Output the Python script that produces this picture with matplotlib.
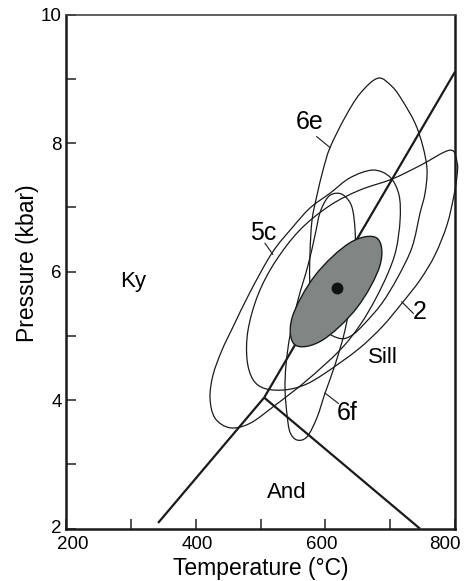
import numpy as np
import matplotlib
matplotlib.use("Agg")
import matplotlib.pyplot as plt
import matplotlib.transforms as mtransforms
from matplotlib.path import Path
from matplotlib.patches import PathPatch

plt.rcParams['font.family'] = ['Liberation Sans', 'DejaVu Sans']

# reaction lines (T in C, P in kbar)
ky_and_T = [342, 505.6]
ky_and_P = [2.09, 4.04]
ky_sill_T = [505.6, 800]
ky_sill_P = [4.04, 9.11]
and_sill_T = [505.6, 746]
and_sill_P = [4.04, 2.0]

# P-T envelopes
env_6e_T = [681.2, 702.8, 718.2, 738.3, 750.6, 756.8, 753.7, 746.0, 733.7, 712.1, 687.4, 661.2,
            641.1, 622.6, 599.5, 584.1, 576.3, 576.3, 579.4, 587.1, 596.4, 607.2, 630.3, 653.5]
env_6e_P = [9.01, 8.88, 8.67, 8.31, 7.94, 7.58, 7.22, 6.91, 6.38, 5.92, 5.51, 5.20,
            5.01, 4.96, 5.09, 5.40, 5.79, 6.29, 6.80, 7.19, 7.58, 7.93, 8.40, 8.77]

env_5c_T = [422.1, 426.7, 440.6, 457.6, 483.8, 517.7, 548.6, 576.3, 607.2, 638.0, 673.5, 699.7,
            713.6, 715.2, 709.0, 696.7, 676.6, 653.5, 622.6, 571.7, 522.4, 483.8, 453.0, 429.8]
env_5c_P = [4.03, 4.39, 4.78, 5.14, 5.68, 6.29, 6.68, 6.99, 7.22, 7.46, 7.58, 7.47,
            7.19, 6.80, 6.34, 5.98, 5.56, 5.17, 4.78, 4.31, 3.92, 3.64, 3.57, 3.72]

env_2_T = [803.1, 792.3, 746.0, 702.8, 653.5, 607.2, 560.9, 522.4, 496.1, 480.7, 479.2, 488.4,
           506.9, 537.8, 568.6, 599.5, 650.4, 687.4, 719.8, 746.0, 769.1, 787.7, 798.4, 803.1]
env_2_P = [7.70, 7.89, 7.65, 7.44, 7.27, 7.03, 6.65, 6.15, 5.64, 5.09, 4.63, 4.32,
           4.18, 4.16, 4.24, 4.42, 4.79, 5.14, 5.53, 5.87, 6.26, 6.73, 7.19, 7.50]

env_6f_T = [556.3, 571.7, 587.1, 599.5, 614.9, 630.3, 641.1, 645.8, 645.8, 641.1, 630.3, 618.0,
            604.1, 591.8, 584.1, 573.3, 557.8, 545.5, 539.3, 537.8, 540.9, 545.5]
env_6f_P = [3.38, 3.43, 3.73, 4.11, 4.55, 5.09, 5.71, 6.18, 6.64, 7.00, 7.17, 7.22,
            7.16, 6.92, 6.57, 6.10, 5.56, 5.01, 4.55, 4.16, 3.77, 3.50]

# mean P-T ellipse and best estimate
mean_T = [679.7, 684.3, 648.8, 594.9, 553.2, 548.6, 584.1, 638.0]
mean_P = [6.52, 6.10, 5.44, 4.93, 4.86, 5.28, 5.94, 6.45]
best_T, best_P = 618.0, 5.74

x_ticks = [200, 400, 600, 800]
x_minor = [300, 500, 700]
y_ticks = [2, 4, 6, 8, 10]
y_minor = [3, 5, 7, 9]


def closed_path(T, P):
    # smooth closed curve through the traced points (Catmull-Rom as cubic Bezier)
    pts = np.column_stack([T, P])
    n = len(pts)
    verts = [pts[0]]
    codes = [Path.MOVETO]
    for i in range(n):
        p0, p1, p2, p3 = pts[i - 1], pts[i], pts[(i + 1) % n], pts[(i + 2) % n]
        verts += [p1 + (p2 - p0) / 6, p2 - (p3 - p1) / 6, p2]
        codes += [Path.CURVE4] * 3
    return Path(verts, codes)


def shift(lab, dx, dy):
    lab.set_transform(lab.get_transform() + mtransforms.ScaledTranslation(dx / 72, dy / 72, fig.dpi_scale_trans))


fig = plt.figure(figsize=(4.75, 5.81), dpi=100)
ax = fig.add_axes([0.139, 0.090, 0.819, 0.885])

for T, P in [(env_6e_T, env_6e_P), (env_5c_T, env_5c_P), (env_6f_T, env_6f_P)]:
    ax.add_patch(PathPatch(closed_path(T, P), fill=False, ec='#1a1a1a', lw=0.9, zorder=2))
ax.add_patch(PathPatch(closed_path(env_2_T, env_2_P), fill=False, ec='#1a1a1a', lw=0.9,
                       zorder=2, clip_on=False))

ax.plot(ky_and_T, ky_and_P, color='#1a1a1a', lw=1.6, zorder=3, solid_capstyle='butt')
ax.plot(ky_sill_T, ky_sill_P, color='#1a1a1a', lw=1.6, zorder=3, solid_capstyle='butt')
ax.plot(and_sill_T, and_sill_P, color='#1a1a1a', lw=1.6, zorder=3, solid_capstyle='butt')

ax.add_patch(PathPatch(closed_path(mean_T, mean_P), fc='#7f8684', ec='#1a1a1a', lw=1.0, zorder=4))
ax.plot(best_T, best_P, 'o', color='#111111', ms=7.5, zorder=5)

# field and sample labels
ax.text(303, 5.85, 'Ky', fontsize=16, ha='center', va='center')
ax.text(689, 4.66, 'Sill', fontsize=16, ha='center', va='center')
ax.text(541, 2.56, 'And', fontsize=16, ha='center', va='center')
ax.text(576, 8.33, '6e', fontsize=18, ha='center', va='center')
ax.text(504, 6.60, '5c', fontsize=18, ha='center', va='center')
ax.text(746, 5.37, '2', fontsize=18, ha='center', va='center')
ax.text(633, 3.80, '6f', fontsize=18, ha='center', va='center')
for (x0, y0), (x1, y1) in [((586.7, 8.10), (607.2, 7.93)), ((506.9, 6.44), (518.8, 6.27)),
                           ((735.7, 5.35), (717.8, 5.53)), ((620.0, 3.95), (599.5, 4.11))]:
    ax.plot([x0, x1], [y0, y1], color='#1a1a1a', lw=0.8, zorder=3)

ax.set_xlim(200, 800)
ax.set_ylim(2, 10)
ax.set_xticks(x_ticks)
ax.set_xticks(x_minor, minor=True)
ax.set_yticks(y_ticks)
ax.set_yticks(y_minor, minor=True)
ax.tick_params(which='both', direction='in', length=7, width=1.1, color='#222222', labelsize=13.5)
ax.tick_params(axis='x', pad=5)
ax.tick_params(axis='y', pad=3)
for side in ['left', 'bottom', 'right']:
    ax.spines[side].set_linewidth(1.8)
    ax.spines[side].set_color('#1a1a1a')
ax.spines['top'].set_linewidth(1.2)
ax.spines['top'].set_color('#444444')

# the tick labels in the original sit slightly off their ticks
for lab, dx in zip(ax.get_xticklabels(), [5.2, 1.2, -2.6, -7.2]):
    shift(lab, dx, 0)
shift(ax.get_yticklabels()[0], 0, 1.5)

ax.set_xlabel('Temperature (°C)', fontsize=16.5)
ax.set_ylabel('Pressure (kbar)', fontsize=16.5)
ax.xaxis.set_label_coords(0.5, -0.055)
ax.yaxis.set_label_coords(-0.07, 0.516)

fig.savefig('out.png', dpi=100)
